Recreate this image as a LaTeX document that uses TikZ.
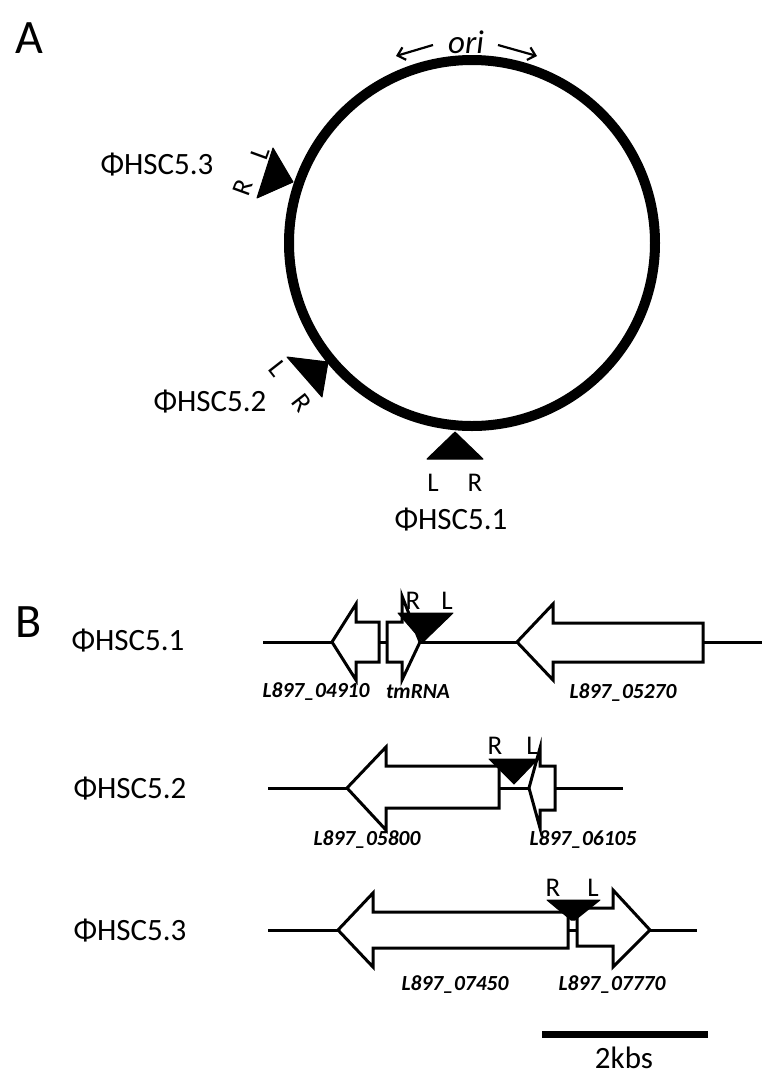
\documentclass[tikz,border=0pt]{standalone}
\usepackage{fontspec}
\setmainfont{Carlito}
\usetikzlibrary{arrows.meta}
\begin{document}
\begin{tikzpicture}[x=1pt,y=-1pt,
  phage/.style={font=\fontsize{31}{34}\selectfont, inner sep=0pt},
  panel/.style={font=\fontsize{48}{52}\selectfont, inner sep=0pt},
  rl/.style={font=\fontsize{27}{30}\selectfont, inner sep=0pt},
  glbl/.style={font=\fontsize{21.5}{24}\selectfont\bfseries\itshape, inner sep=0pt},
  gene/.style={draw, line width=3pt, fill=white, line join=miter},
  backbone/.style={line width=3pt},
  ins/.style={fill=black, draw=black, line width=1pt, line join=round},
  ori/.style={->, >={Straight Barb[length=7pt,width=13pt]}, line width=2.2pt}]
\useasboundingbox (0,0) rectangle (773,1077);

% ---------- Panel A ----------
\node[panel] (A) at (29,38) {A};
\coordinate (C) at (472,243);
\draw[line width=10pt] (C) circle[radius=183];

\node[font=\fontsize{33}{36}\selectfont\itshape, inner sep=0pt] (ori) at (466,42) {ori};
\coordinate (oriLs) at (433,45);
\coordinate (oriL) at (396,56);
\coordinate (oriRs) at (498,45);
\coordinate (oriR) at (537,56);
\draw[ori] (oriLs) -- (oriL);
\draw[ori] (oriRs) -- (oriR);

% HSC5.3
\filldraw[ins] (293,182) -- (273,148) -- (257,198) -- cycle;
\node[rl, rotate=70] (L3) at (260,153) {L};
\node[rl, rotate=70] (R3) at (243,188) {R};
\node[phage] (P3) at (157,165) {ΦHSC5.3};

% HSC5.2
\filldraw[ins] (328,362) -- (287,357) -- (322,397) -- cycle;
\node[rl, rotate=-52] (L2) at (278,369) {L};
\node[rl, rotate=-52] (R2) at (302,403) {R};
\node[phage] (P2) at (210,402) {ΦHSC5.2};

% HSC5.1
\filldraw[ins] (455,432) -- (427,459) -- (483,459) -- cycle;
\node[rl] (L1) at (433,483) {L};
\node[rl] (R1) at (475,483) {R};
\node[phage] (P1) at (451,520) {ΦHSC5.1};

% ---------- Panel B ----------
\node[panel] (B) at (29,622) {B};

% Row 1
\node[phage] (r1) at (128,641) {ΦHSC5.1};
\coordinate (a1) at (263,642);
\coordinate (b1) at (762,642);
\draw[backbone] (a1) -- (b1);
\draw[gene] (332,642) -- (356,604) -- (356,622) -- (379,622) -- (379,662) -- (356,662) -- (356,680) -- cycle;
\draw[gene] (387,622) -- (402,622) -- (402,596) -- (420,642) -- (402,680) -- (402,662) -- (387,662) -- cycle;
\draw[gene] (517,642) -- (553,604) -- (553,623) -- (703,623) -- (703,662) -- (553,662) -- (553,680) -- cycle;
\filldraw[ins] (398,613) -- (453,613) -- (423,642) -- cycle;
\node[rl] (R1b) at (413,601) {R};
\node[rl] (L1b) at (447,601) {L};
\node[glbl] (g1) at (316,692) {L897\_04910};
\node[glbl] (g2) at (418,692) {tmRNA};
\node[glbl] (g3) at (623,693) {L897\_05270};

% Row 2
\node[phage] (r2) at (130,789) {ΦHSC5.2};
\coordinate (a2) at (268,788);
\coordinate (b2) at (623,788);
\draw[backbone] (a2) -- (b2);
\draw[gene] (347,788) -- (386,747) -- (386,766) -- (499,766) -- (499,808) -- (386,808) -- (386,830) -- cycle;
\draw[gene] (529,788) -- (540,748) -- (540,766) -- (555,766) -- (555,810) -- (540,810) -- (540,828) -- cycle;
\filldraw[ins] (489,759) -- (538,759) -- (514,784) -- cycle;
\node[rl] (R2b) at (495,746) {R};
\node[rl] (L2b) at (532,746) {L};
\node[glbl] (g4) at (367,840) {L897\_05800};
\node[glbl] (g5) at (583,840) {L897\_06105};

% Row 3
\node[phage] (r3) at (130,931) {ΦHSC5.3};
\coordinate (a3) at (268,930);
\coordinate (b3) at (697,930);
\draw[backbone] (a3) -- (b3);
\draw[gene] (338,930) -- (373,893) -- (373,912) -- (568,912) -- (568,948) -- (373,948) -- (373,967) -- cycle;
\draw[gene] (650,930) -- (613,890) -- (613,908) -- (577,908) -- (577,946) -- (613,946) -- (613,967) -- cycle;
\filldraw[ins] (547,900) -- (600,900) -- (575,920) -- (571,920) -- cycle;
\node[rl] (R3b) at (553,888) {R};
\node[rl] (L3b) at (593,888) {L};
\node[glbl] (g6) at (455,985) {L897\_07450};
\node[glbl] (g7) at (612,985) {L897\_07770};

% Scale bar
\coordinate (s1) at (542,1034);
\coordinate (s2) at (708,1034);
\draw[line width=7pt] (s1) -- (s2);
\node[phage] (kb) at (624,1058) {2kbs};
\end{tikzpicture}
\end{document}
